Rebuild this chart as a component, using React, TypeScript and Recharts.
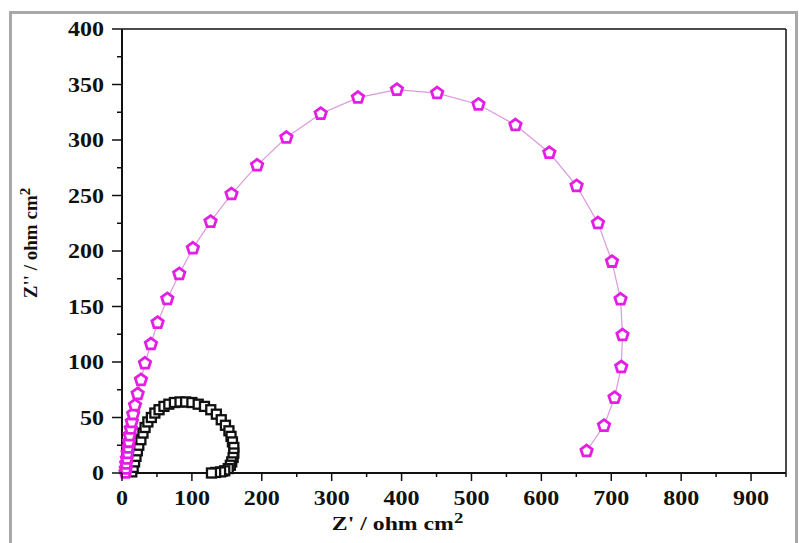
import React from 'react'
import { ScatterChart, Scatter, XAxis, YAxis, ReferenceLine } from 'recharts'

// Nyquist data (Z' , Z'' in ohm cm2)
const magentaX = [5, 5.5, 6, 7, 8, 9, 10, 11, 12.5, 14, 16, 18.6, 22.4, 27.1, 32.9, 41.4, 50.9, 64.8, 81.9, 101.4, 126.7, 156.7, 193.3, 235.2, 284.3, 337.6, 393.3, 450.9, 510, 562.9, 611.4, 650.4, 681, 701, 713.3, 716.1, 714.3, 704.7, 689.6, 664.7]
const magentaY = [0.5, 4, 8.5, 13, 18, 23, 28, 34, 40, 46, 53, 61, 71.2, 83.8, 98.8, 116.2, 135.4, 156.8, 179.3, 202.4, 226.4, 251.3, 277.2, 302.2, 323.7, 338.2, 345.3, 342.3, 332, 313.5, 288.5, 258.6, 225.2, 190.4, 156.5, 124.3, 95.5, 67.8, 42.6, 19.8]

const blackX = [14, 16, 18, 20, 22, 24, 27, 30, 33, 37, 42, 47, 53, 60, 67, 75, 83, 91, 100, 109, 118, 127, 135, 142, 148, 153, 156, 158, 160, 160, 159, 157, 155, 152, 147, 141, 134, 128]
const blackY = [1, 5, 10, 15, 20, 25, 30, 36, 41, 46, 50, 54, 57, 60, 62, 63.5, 64, 64, 63.5, 62, 60, 57, 53, 48, 43, 38, 33, 28, 23, 18, 14, 10, 7, 4, 2, 1, 0.5, 0]

const xTicks = [0, 50, 100, 150, 200, 250, 300, 350, 400, 450, 500, 550, 600, 650, 700, 750, 800, 850, 900, 950]
const yTicks = [0, 25, 50, 75, 100, 125, 150, 175, 200, 225, 250, 275, 300, 325, 350, 375, 400]

const magentaData = magentaX.map((x, i) => ({ x, y: magentaY[i] }))
const blackData = blackX.map((x, i) => ({ x, y: blackY[i] }))

const textStyle = { fontFamily: "'Liberation Serif', 'Times New Roman', serif", fontWeight: 700 }

const Pentagon = (props: any) => {
	const { cx, cy } = props
	if (cx == null || cy == null) return null
	const r = 6
	const pts = [0, 1, 2, 3, 4]
		.map((k) => {
			const a = ((-90 + k * 72) * Math.PI) / 180
			return `${cx + r * Math.cos(a)},${cy + r * Math.sin(a)}`
		})
		.join(' ')
	return <polygon points={pts} fill='#ffffff' stroke='#e41ee4' strokeWidth={2.8} />
}

const Square = (props: any) => {
	const { cx, cy } = props
	if (cx == null || cy == null) return null
	return <rect x={cx - 4.5} y={cy - 4.5} width={9} height={9} fill='#ffffff' stroke='#111' strokeWidth={2.3} />
}

const XTick = (props: any) => {
	const { x, y, payload } = props
	const major = payload.value % 100 === 0
	return (
		<g>
			<line x1={x} x2={x} y1={y} y2={y + (major ? 8 : 4)} stroke='#111' strokeWidth={1.5} />
			{major && payload.value !== 950 && (
				<text transform={`translate(${x},${y + 32}) scale(1.2,1)`} textAnchor='middle' fontSize={20} fill='#111' style={textStyle}>
					{payload.value}
				</text>
			)}
		</g>
	)
}

const YTick = (props: any) => {
	const { x, y, payload } = props
	const major = payload.value % 50 === 0
	return (
		<g>
			<line x1={x - (major ? 10 : 5)} x2={x} y1={y} y2={y} stroke='#111' strokeWidth={1.5} />
			{major && (
				<text transform={`translate(${x - 18},${y + 7}) scale(1.2,1)`} textAnchor='end' fontSize={20} fill='#111' style={textStyle}>
					{payload.value}
				</text>
			)}
		</g>
	)
}

const XTitle = (props: any) => {
	const vb = props.viewBox
	const cx = vb.x + vb.width * 0.415
	return (
		<text transform={`translate(${cx},${vb.y + 57}) scale(1.25,1)`} textAnchor='middle' fontSize={19} fill='#111' style={textStyle}>
			Z' / ohm cm<tspan dy={-7} fontSize={15}>2</tspan>
		</text>
	)
}

const YTitle = () => (
	<text transform='translate(37,243) rotate(-90)' textAnchor='middle' fontSize={19} fill='#111' style={textStyle}>
		Z'' / ohm cm<tspan dy={-7} fontSize={15}>2</tspan>
	</text>
)

export default function App() {
	return (
		<div style={{ position: 'absolute', left: 0, top: 0, width: 799, height: 543, background: '#fff', overflow: 'hidden' }}>
			{/* grey picture frame */}
			<div
				style={{
					position: 'absolute',
					left: 9,
					top: 11,
					width: 789,
					height: 540,
					boxSizing: 'border-box',
					border: '3px solid #a8a8a8',
					borderBottom: 'none',
				}}
			/>
			<div style={{ position: 'absolute', left: 0, top: 0 }}>
				<ScatterChart width={799} height={543} margin={{ top: 29, right: 13, bottom: 40, left: 62 }}>
					<XAxis
						type='number'
						dataKey='x'
						domain={[0, 950]}
						ticks={xTicks}
						interval={0}
						tickSize={0}
						tickMargin={0}
						tickLine={false}
						tick={<XTick />}
						axisLine={{ stroke: '#111', strokeWidth: 2 }}
						height={30}
						label={{ content: <XTitle /> }}
					/>
					<YAxis
						type='number'
						dataKey='y'
						domain={[0, 400]}
						ticks={yTicks}
						interval={0}
						tickSize={0}
						tickMargin={0}
						tickLine={false}
						tick={<YTick />}
						axisLine={{ stroke: '#111', strokeWidth: 2 }}
						width={60}
						label={{ content: <YTitle /> }}
					/>
					<ReferenceLine y={400} stroke='#111' strokeWidth={1.5} />
					<ReferenceLine x={950} stroke='#111' strokeWidth={1.5} />
					<Scatter
						data={blackData}
						line={{ stroke: '#111', strokeWidth: 1 }}
						lineType='joint'
						shape={<Square />}
						isAnimationActive={false}
					/>
					<Scatter
						data={magentaData}
						line={{ stroke: '#dd99dd', strokeWidth: 1.2 }}
						lineType='joint'
						shape={<Pentagon />}
						isAnimationActive={false}
					/>
				</ScatterChart>
			</div>
		</div>
	)
}
